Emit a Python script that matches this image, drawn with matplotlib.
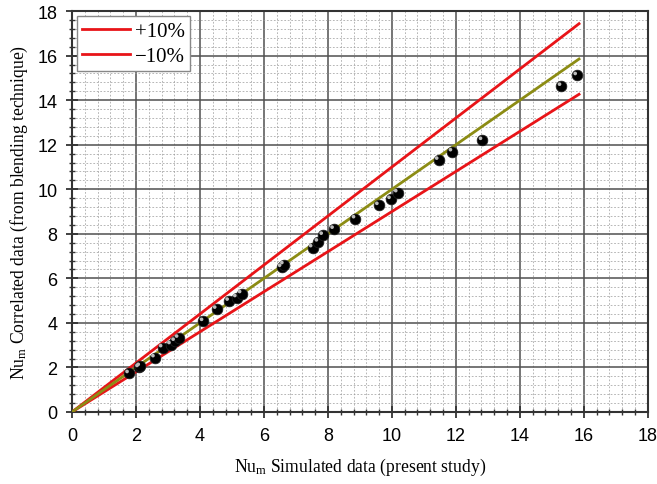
import numpy as np
import matplotlib
matplotlib.use("Agg")
import matplotlib.pyplot as plt
from matplotlib.ticker import MultipleLocator

plt.rcParams['mathtext.fontset'] = 'custom'
plt.rcParams['mathtext.rm'] = 'Liberation Serif'
plt.rcParams['mathtext.it'] = 'Liberation Serif:italic'

# Data
simulated = [1.78, 2.09, 2.13, 2.59, 2.83, 3.09, 3.22, 3.33, 4.11, 4.52, 4.91, 5.15, 5.30,
             6.55, 6.62, 7.52, 7.70, 7.85, 8.19, 8.86, 9.59, 9.97, 10.18, 11.46, 11.89,
             12.83, 15.30, 15.79]
correlated = [1.73, 2.00, 2.05, 2.44, 2.89, 3.03, 3.18, 3.32, 4.07, 4.62, 4.98, 5.14, 5.32,
              6.50, 6.62, 7.38, 7.64, 7.94, 8.21, 8.68, 9.28, 9.55, 9.85, 11.31, 11.69,
              12.20, 14.63, 15.11]
line_x = [0.0, 15.85]
plus_factor = 1.10
minus_factor = 0.90
x_ticks = [0, 2, 4, 6, 8, 10, 12, 14, 16, 18]
y_ticks = [0, 2, 4, 6, 8, 10, 12, 14, 16, 18]

fig = plt.figure(figsize=(6.57, 4.85), dpi=100)
ax = fig.add_axes([0.1096, 0.1485, 0.8764, 0.8265])

ax.set_xlim(0, 18)
ax.set_ylim(0, 18)
ax.set_xticks(x_ticks)
ax.set_yticks(y_ticks)
ax.xaxis.set_minor_locator(MultipleLocator(0.4))
ax.yaxis.set_minor_locator(MultipleLocator(0.4))

ax.grid(which='major', color='#505050', linestyle='-', linewidth=1.1, zorder=0)
ax.grid(which='minor', color='#9a9a9a', linestyle=(0, (2.5, 2.5)), linewidth=0.5, zorder=0)
ax.set_axisbelow(True)

lx = np.array(line_x)
ax.plot(lx, lx * plus_factor, color='#e81418', linewidth=2.0, label='+10%', zorder=3)
ax.plot(lx, lx * minus_factor, color='#e81418', linewidth=2.0, label='\u221210%', zorder=3)
ax.plot(lx, lx, color='#8c8c14', linewidth=2.0, zorder=3)

ax.scatter(simulated, correlated, s=60, color='black', edgecolors='#222222', linewidths=0.5, zorder=5)
ax.scatter(np.array(simulated) - 0.06, np.array(correlated) + 0.09, s=7, color='#bbbbbb',
           edgecolors='none', zorder=6)

for sp in ax.spines.values():
    sp.set_linewidth(1.5)
    sp.set_color('#333333')

ax.tick_params(which='major', direction='inout', length=9, width=1.3, color='#333333',
               labelsize=13, pad=6)
ax.tick_params(which='minor', direction='inout', length=5, width=1.0, color='#333333')
for lab in ax.get_xticklabels() + ax.get_yticklabels():
    lab.set_fontfamily('Liberation Sans')

ax.set_xlabel(r'Nu$_{\rm m}$ Simulated data (present study)', fontfamily='Liberation Serif',
              fontsize=12.7, labelpad=9)
ax.set_ylabel(r'Nu$_{\rm m}$ Correlated data (from blending technique)', fontfamily='Liberation Serif',
              fontsize=12.7, labelpad=5)

leg = ax.legend(loc='upper left', prop={'family': 'Liberation Serif', 'size': 15},
                handlelength=2.3, handletextpad=0.2, borderaxespad=0.25, fancybox=False,
                framealpha=1, edgecolor='#888888', labelspacing=0.25, borderpad=0.25)
leg.set_zorder(10)

fig.savefig('out.png', dpi=100)
